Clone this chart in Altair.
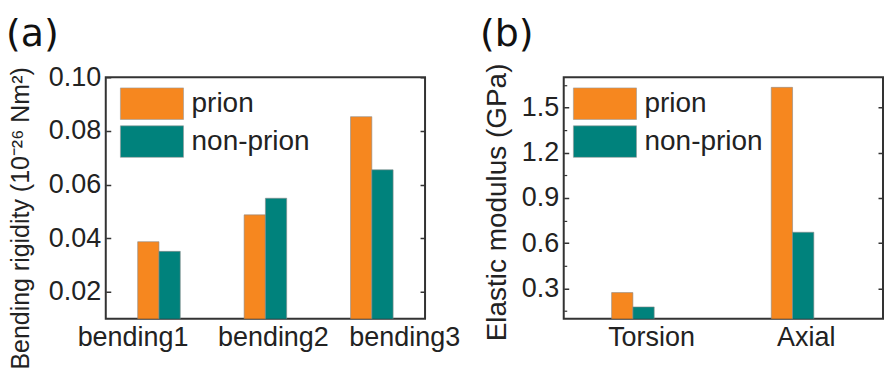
import altair as alt
import pandas as pd

# ---- data ----
cats_a = ["bending1", "bending2", "bending3"]
prion_a = [0.0387, 0.0487, 0.0853]
nonprion_a = [0.0351, 0.0549, 0.0655]

cats_b = ["Torsion", "Axial"]
prion_b = [0.273, 1.633]
nonprion_b = [0.178, 0.673]

series = ["prion", "non-prion"]
colors = ["#F6871F", "#00827C"]

ticks_a = [0.02, 0.04, 0.06, 0.08, 0.10]
ticks_b = [0.3, 0.6, 0.9, 1.2, 1.5]
minor_b = [0.15, 0.45, 0.75, 1.05, 1.35, 1.65]


def table(cats, p, n):
    rows = []
    for c, a, b in zip(cats, p, n):
        rows.append({"cat": c, "series": "prion", "value": a})
        rows.append({"cat": c, "series": "non-prion", "value": b})
    return pd.DataFrame(rows)


df_a = table(cats_a, prion_a, nonprion_a)
df_b = table(cats_b, prion_b, nonprion_b)

FONT = "Liberation Sans"
W, H = 320, 242
# wide rectangle: 4 units wide, 2 units tall -> 2*sqrt(size) x sqrt(size)
rect_path = "M-1,-1H3V1H-1Z"

color_scale = alt.Scale(domain=series, range=colors)


def legend(x):
    return alt.Legend(
        title=None, orient="none", legendX=x, legendY=10,
        symbolType=rect_path, symbolSize=1000, symbolStrokeColor="#999",
        symbolStrokeWidth=0.6, symbolOpacity=1, labelFont=FONT,
        labelFontSize=28, labelColor="#222", labelOffset=39, rowPadding=3,
        padding=0, labelLimit=300,
    )


def panel(df, cats, domain, ticks, fmt, ytitle, title_x, title_y, title_size,
          leg_x, label_offsets, panel_label, panel_dx, minor=None):
    cond = [{"test": f"datum.value === '{c}'", "value": o} for c, o in zip(cats, label_offsets)]
    x = alt.X("cat:N", sort=cats, title=None,
              scale=alt.Scale(paddingInner=0.6, paddingOuter=0.3),
              axis=alt.Axis(labelAngle=0, labelFont=FONT, labelFontSize=27,
                            labelColor="#222", ticks=False, domain=False,
                            labelPadding=6,
                            labelOffset={"condition": cond, "value": 0}))
    y = alt.Y("value:Q", title=ytitle,
              scale=alt.Scale(domain=domain, nice=False, zero=False),
              axis=alt.Axis(values=ticks, format=fmt, labelFont=FONT,
                            labelFontSize=27, labelColor="#222", ticks=False,
                            domain=False, labelPadding=5,
                            grid=True, gridColor="#333", gridWidth=1.5,
                            gridOpacity=1,
                            gridDash=[5, W - 10, 5],
                            titleFont=FONT, titleFontSize=title_size,
                            titleFontWeight="normal", titleColor="#222",
                            titleAngle=270, titleAlign="center",
                            titleBaseline="middle", titleX=title_x,
                            titleY=title_y))
    bars = alt.Chart(df).mark_bar(clip=True, stroke="#8a8a8a", strokeWidth=0.6).encode(
        x=x, y=y,
        xOffset=alt.XOffset("series:N", sort=series),
        color=alt.Color("series:N", sort=series, scale=color_scale, legend=legend(leg_x)),
    )
    layers = [bars]
    if minor is not None:
        mdf = pd.DataFrame({"value": minor})
        m = alt.Chart(mdf).mark_point(opacity=0).encode(
            y=alt.Y("value:Q", axis=alt.Axis(orient="left", values=minor, labels=False,
                                             ticks=False, domain=False, title=None,
                                             grid=True, gridColor="#333", gridWidth=1.2,
                                             gridOpacity=1, gridDash=[3, 1000]))
        )
        layers.append(m)
    ch = alt.layer(*layers).properties(
        width=W, height=H,
        view=alt.ViewBackground(stroke="#333333", strokeWidth=2, strokeOpacity=1),
        title=alt.TitleParams(text=panel_label, anchor="start", frame="group",
                              dx=panel_dx, font="DejaVu Sans", fontSize=38,
                              fontWeight="normal", color="#111", offset=9),
    )
    if minor is not None:
        ch = ch.resolve_axis(y="independent").resolve_scale(y="shared")
    return ch


left = panel(df_a, cats_a, [0.01, 0.10], ticks_a, ".2f",
             "Bending rigidity (10⁻²⁶ Nm²)", -85, 141, 25, 14,
             [-26, 8, 33], "(a)", -100)
right = panel(df_b, cats_b, [0.1, 1.7], ticks_b, ".1f",
              "Elastic modulus (GPa)", -66, 125, 28, 9,
              [8, 3], "(b)", -84, minor=minor_b)

chart = alt.hconcat(left, right, spacing=139, bounds="flush").resolve_legend(
    color="independent"
).properties(
    padding={"left": 5, "top": 14, "right": 3, "bottom": 0}
).configure_view(stroke="#333333", strokeWidth=2).configure(background="white")

chart.save("out.html", embed_options={"renderer": "svg", "actions": False})
